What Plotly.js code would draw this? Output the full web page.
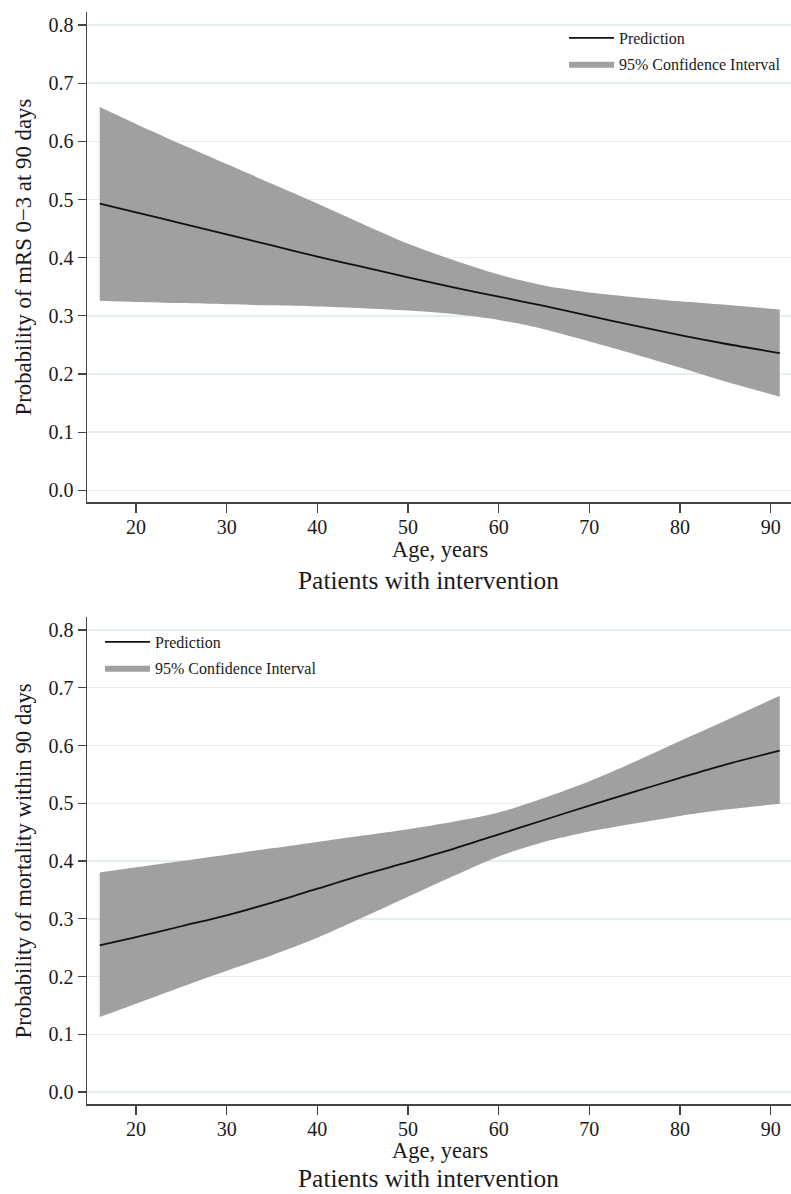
<!DOCTYPE html>
<html>
<head>
<meta charset="utf-8">
<script src="https://cdn.plot.ly/plotly-3.0.1.min.js"></script>
<style>
html,body{margin:0;padding:0;background:#fff;}
#chart{width:791px;height:1194px;}
#chart text{font-family:"Liberation Serif","Times New Roman",serif !important;}
</style>
</head>
<body>
<div id="chart"></div>
<script>
// Data
const ages = [16, 20, 25, 30, 35, 40, 45, 50, 55, 60, 65, 70, 75, 80, 85, 91];

// Top panel: Probability of mRS 0-3 at 90 days
const mrsPred  = [0.493, 0.478, 0.459, 0.440, 0.421, 0.402, 0.384, 0.366, 0.349, 0.333, 0.317, 0.300, 0.283, 0.267, 0.252, 0.236];
const mrsUpper = [0.659, 0.630, 0.595, 0.561, 0.527, 0.493, 0.458, 0.424, 0.396, 0.371, 0.352, 0.340, 0.332, 0.325, 0.319, 0.311];
const mrsLower = [0.326, 0.324, 0.322, 0.320, 0.318, 0.316, 0.313, 0.309, 0.303, 0.293, 0.277, 0.256, 0.234, 0.211, 0.187, 0.161];

// Bottom panel: Probability of mortality within 90 days
const mortPred  = [0.254, 0.268, 0.287, 0.306, 0.328, 0.352, 0.376, 0.398, 0.421, 0.446, 0.471, 0.496, 0.520, 0.544, 0.567, 0.591];
const mortUpper = [0.380, 0.389, 0.400, 0.411, 0.422, 0.433, 0.444, 0.455, 0.468, 0.484, 0.509, 0.538, 0.572, 0.608, 0.643, 0.686];
const mortLower = [0.130, 0.153, 0.182, 0.210, 0.237, 0.267, 0.302, 0.338, 0.374, 0.408, 0.433, 0.451, 0.465, 0.478, 0.489, 0.499];

const xTicks = [20, 30, 40, 50, 60, 70, 80, 90];
const yTicks = [0, 0.1, 0.2, 0.3, 0.4, 0.5, 0.6, 0.7, 0.8];
const yTickLabels = ['0.0', '0.1', '0.2', '0.3', '0.4', '0.5', '0.6', '0.7', '0.8'];

const names = {pred: 'Prediction', ci: '95% Confidence Interval'};
const titles = {
  yTop: 'Probability of mRS 0\u22123 at 90 days',
  yBottom: 'Probability of mortality within 90 days',
  x: 'Age, years',
  panel: 'Patients with intervention'
};

const FONT = '"Liberation Serif", "Times New Roman", serif';
const BAND = '#a0a0a0';
const INK = '#1a1a1a';
const W = 791, H = 1194;
const px = v => v / W;
const py = v => 1 - v / H;

function panel(xa, ya, lo, up, pr, legendId) {
  return [
    {x: ages, y: lo, xaxis: xa, yaxis: ya, type: 'scatter', mode: 'lines',
     line: {width: 0, shape: 'spline', smoothing: 0.8, color: BAND}, showlegend: false, hoverinfo: 'skip',
     legend: legendId, legendgroup: 'ci'},
    {x: ages, y: up, xaxis: xa, yaxis: ya, type: 'scatter', mode: 'lines', fill: 'tonexty',
     fillcolor: BAND, line: {width: 0, shape: 'spline', smoothing: 0.8, color: BAND},
     name: names.ci, legendrank: 2, legend: legendId, legendgroup: 'ci'},
    {x: ages, y: pr, xaxis: xa, yaxis: ya, type: 'scatter', mode: 'lines',
     line: {width: 1.8, color: '#111', shape: 'spline', smoothing: 0.8},
     name: names.pred, legendrank: 1, legend: legendId, legendgroup: 'pred'}
  ];
}

const data = [].concat(
  panel('x', 'y', mrsLower, mrsUpper, mrsPred, 'legend'),
  panel('x2', 'y2', mortLower, mortUpper, mortPred, 'legend2')
);

const xCommon = {
  range: [14.596, 92.24], tickvals: xTicks, ticks: 'outside', ticklen: 9, tickwidth: 1.3,
  tickcolor: '#444', showline: true, linecolor: '#444', linewidth: 1.5, showgrid: false,
  zeroline: false, tickfont: {family: FONT, size: 20, color: INK}, domain: [px(87), 1],
  ticklabelstandoff: -3, fixedrange: true
};
const yCommon = {
  tickvals: yTicks, ticktext: yTickLabels, ticks: 'outside', ticklen: 8, tickwidth: 1.3,
  tickcolor: '#444', showline: true, linecolor: '#444', linewidth: 1.5, showgrid: true,
  gridcolor: '#e6eef0', gridwidth: 1.5, zeroline: false,
  tickfont: {family: FONT, size: 20, color: INK}, fixedrange: true
};

const legendCommon = {
  font: {family: FONT, size: 16, color: INK}, bgcolor: 'rgba(0,0,0,0)',
  borderwidth: 0, itemwidth: 45, xanchor: 'left', yanchor: 'top',
  traceorder: 'grouped', tracegroupgap: 2
};

const layout = {
  width: W, height: H,
  margin: {l: 0, r: 0, t: 0, b: 0},
  paper_bgcolor: '#fff', plot_bgcolor: '#fff',
  font: {family: FONT, color: INK},
  xaxis: Object.assign({}, xCommon, {anchor: 'y'}),
  yaxis: Object.assign({}, yCommon, {anchor: 'x', domain: [py(502.3), py(12)], range: [-0.0206, 0.8224]}),
  xaxis2: Object.assign({}, xCommon, {anchor: 'y2'}),
  yaxis2: Object.assign({}, yCommon, {anchor: 'x2', domain: [py(1104.3), py(617)], range: [-0.0213, 0.8225]}),
  legend: Object.assign({}, legendCommon, {x: px(564), y: py(21)}),
  legend2: Object.assign({}, legendCommon, {x: px(100), y: py(625)}),
  showlegend: true,
  annotations: [
    {text: titles.yTop, xref: 'paper', yref: 'paper', x: px(23), y: py(257.5), textangle: -90,
     showarrow: false, xanchor: 'center', yanchor: 'middle', font: {family: FONT, size: 22.8, color: INK}},
    {text: titles.yBottom, xref: 'paper', yref: 'paper', x: px(23), y: py(861.5), textangle: -90,
     showarrow: false, xanchor: 'center', yanchor: 'middle', font: {family: FONT, size: 22.8, color: INK}},
    {text: titles.x, xref: 'paper', yref: 'paper', x: px(440), y: py(549), showarrow: false,
     xanchor: 'center', yanchor: 'middle', font: {family: FONT, size: 22.5, color: INK}},
    {text: titles.panel, xref: 'paper', yref: 'paper', x: px(428), y: py(580), showarrow: false,
     xanchor: 'center', yanchor: 'middle', font: {family: FONT, size: 25.4, color: INK}},
    {text: titles.x, xref: 'paper', yref: 'paper', x: px(440), y: py(1150), showarrow: false,
     xanchor: 'center', yanchor: 'middle', font: {family: FONT, size: 22.5, color: INK}},
    {text: titles.panel, xref: 'paper', yref: 'paper', x: px(428), y: py(1194), showarrow: false,
     xanchor: 'center', yanchor: 'bottom', font: {family: FONT, size: 25.4, color: INK}}
  ]
};

Plotly.newPlot('chart', data, layout, {displayModeBar: false, staticPlot: true});
</script>
</body>
</html>
